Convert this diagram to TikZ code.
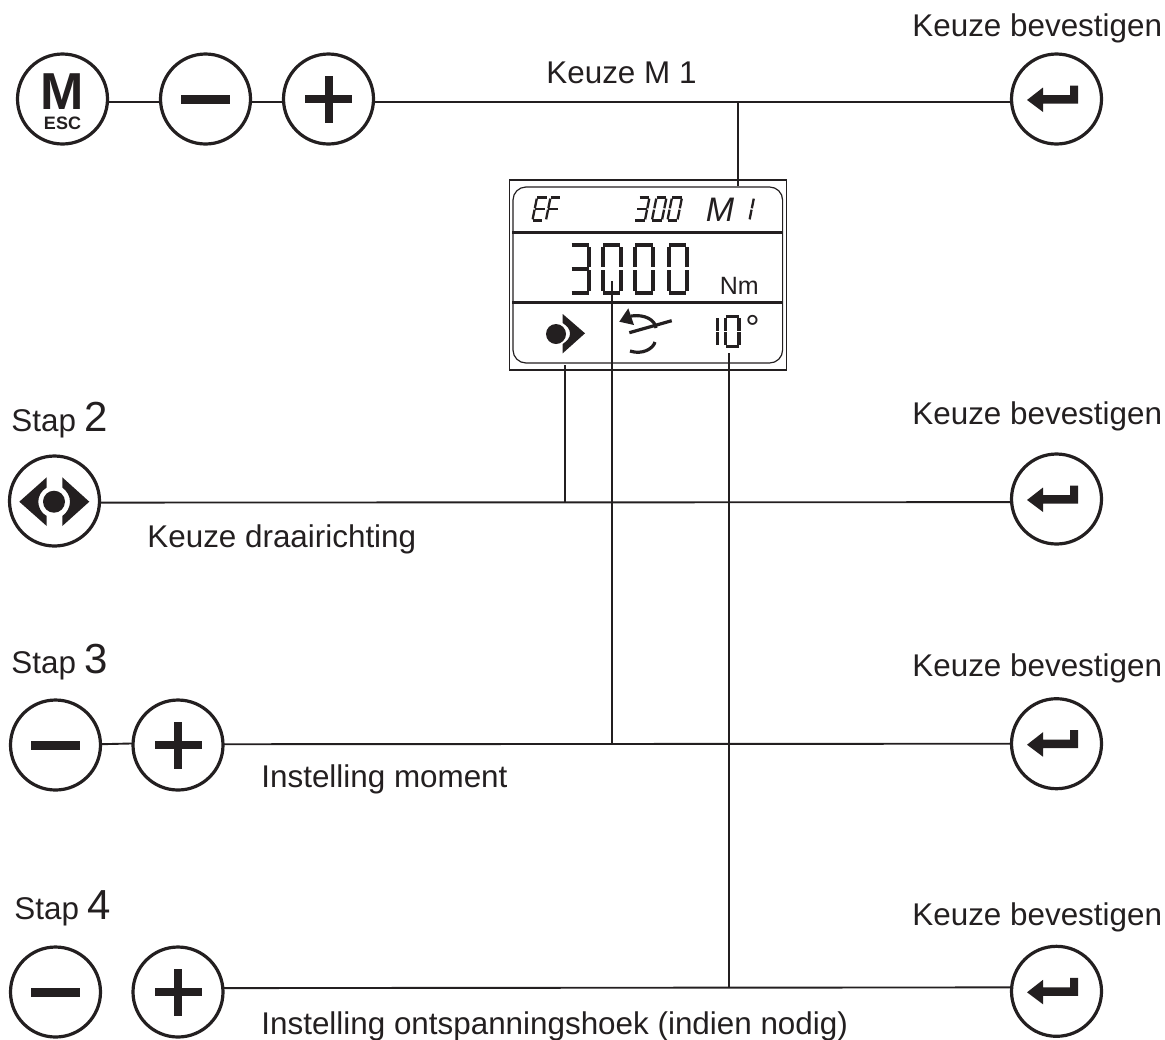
\documentclass[tikz,border=0pt]{standalone}
\usepackage{fontspec}
\setmainfont{Liberation Sans}
\definecolor{inkt}{HTML}{231F20}

\tikzset{
  knop/.style = {circle, draw=inkt, line width=1.6pt, minimum size=45pt, inner sep=0pt, outer sep=0pt},
  tekst/.style = {anchor=base west, inner sep=0pt, text=inkt, font=\fontsize{15.7}{18}\selectfont},
  lijn/.style = {draw=inkt, line width=0.95pt},
  lcdgroot/.style = {line width=2pt},
  lcdmidden/.style = {line width=1.7pt},
  lcdklein/.style = {line width=1.15pt},
  minbalk/.pic = {
    \fill [inkt] (-24.5,-4.5) rectangle (24.5,4.5);
  },
  plusbalk/.pic = {
    \fill [inkt] (-23.5,-4) rectangle (23.5,4);
    \fill [inkt] (-4,-23.5) rectangle (4,23.5);
  },
  enterpijl/.pic = {
    \fill [inkt] (-29.5,1) -- (-13.5,-11.5) -- (-13.5,-4) -- (13.5,-4) -- (13.5,-13.5)
      -- (21.5,-13.5) -- (21.5,4.5) -- (-13.5,4.5) -- (-13.5,13) -- cycle;
  },
  pics/segs/.style n args = {3}{code = {
    \coordinate (a1) at (0.02*#1,0);       \coordinate (a2) at (0.98*#1,0);
    \coordinate (b1) at (#1,0.05*#2);      \coordinate (b2) at (#1,0.47*#2);
    \coordinate (c1) at (#1,0.53*#2);      \coordinate (c2) at (#1,0.95*#2);
    \coordinate (d1) at (0.02*#1,#2);      \coordinate (d2) at (0.98*#1,#2);
    \coordinate (e1) at (0,0.53*#2);       \coordinate (e2) at (0,0.95*#2);
    \coordinate (f1) at (0,0.05*#2);       \coordinate (f2) at (0,0.47*#2);
    \coordinate (g1) at (0.02*#1,0.5*#2);  \coordinate (g2) at (0.98*#1,0.5*#2);
    \foreach \s in {#3} {
      \draw [inkt, pic actions] (\s1) -- (\s2);
    }
  }},
}

\begin{document}
\begin{tikzpicture}[x=0.5pt, y=-0.5pt]
    \useasboundingbox (0,0) rectangle (1165,1039);

    % knoppen
    \node [knop] (mesc) at (62.5,99) {};
    \node [knop] (mina) at (205.5,99) {};
    \node [knop] (plusa) at (328.5,99) {};
    \node [knop] (entera) at (1056.5,99) {};
    \node [knop] (draai) at (54.5,501) {};
    \node [knop] (enterb) at (1056.5,499) {};
    \node [knop] (minb) at (55.5,745) {};
    \node [knop] (plusb) at (178,745) {};
    \node [knop] (enterc) at (1056.5,743.7) {};
    \node [knop] (minc) at (55.5,992) {};
    \node [knop] (plusc) at (178,992) {};
    \node [knop] (enterd) at (1056.5,991.3) {};

    \node [text=inkt, inner sep=0pt, align=center, font=\fontsize{9}{10}\selectfont\bfseries] (mletter) at (62.5,101.4)
      {{\fontsize{26}{26}\selectfont M}\\ESC};
    \pic at (mina) {minbalk};
    \pic at (plusa) {plusbalk};
    \pic at (minb) {minbalk};
    \pic at (plusb) {plusbalk};
    \pic at (minc) {minbalk};
    \pic at (plusc) {plusbalk};
    \foreach \n in {entera, enterb, enterc, enterd} {
      \pic at (\n) {enterpijl};
    }
    \fill [inkt] (54,501.7) circle (11);
    \fill [inkt] (19.3,501.7) -- (46.7,477.3) -- (46.7,487.5) .. controls (41,491) and (38.3,496) .. (38.3,501.7)
      .. controls (38.3,507) and (41,513) .. (46.7,516) -- (46.7,526) -- cycle;
    \fill [inkt] (89.3,501.7) -- (62.3,477.3) -- (62.3,487.5) .. controls (67,491) and (70,496) .. (70,501.7)
      .. controls (70,507) and (67,513) .. (62.3,516) -- (62.3,526) -- cycle;

    % display
    \node [draw=inkt, line width=0.6pt, minimum width=138.6pt, minimum height=95pt, inner sep=0pt] (lcdkader) at (648,275) {};
    \node [draw=inkt, line width=0.6pt, rounded corners=6.5pt, minimum width=134.8pt, minimum height=88pt, inner sep=0pt] (lcdvak) at (647.8,275) {};
    \draw [inkt, line width=1.25pt] (lcdvak.west |- 0,232.7) -- (lcdvak.east |- 0,232.7);
    \draw [inkt, line width=1.25pt] (lcdvak.west |- 0,302.7) -- (lcdvak.east |- 0,302.7);

    \pic [lcdklein, xslant=0.2] at (537,197.5) {segs={10}{23}{a,d,e,f,g}};
    \pic [lcdklein, xslant=0.2] at (550.5,197.5) {segs={10}{23}{a,e,f,g}};
    \pic [lcdklein, xslant=0.2] at (639.5,197.5) {segs={10}{23}{a,b,c,d,g}};
    \pic [lcdklein, xslant=0.2] at (656.5,197.5) {segs={10}{23}{a,b,c,d,e,f}};
    \pic [lcdklein, xslant=0.2] at (672,197.5) {segs={10}{23}{a,b,c,d,e,f}};
    \pic [lcdklein, xslant=0.2] at (754,197.5) {segs={0}{23}{b,c}};

    \pic [lcdgroot] at (571.3,244.7) {segs={18}{48.3}{a,b,c,d,g}};
    \pic [lcdgroot] at (602.7,244.7) {segs={18}{48.3}{a,b,c,d,e,f}};
    \pic [lcdgroot] at (635,244.7) {segs={18}{48.3}{a,b,c,d,e,f}};
    \pic [lcdgroot] at (668.7,244.7) {segs={18}{48.3}{a,b,c,d,e,f}};
    \pic [lcdmidden] at (717.5,316.7) {segs={0}{29.6}{b,c}};
    \pic [lcdmidden] at (725.7,316.7) {segs={13.3}{29.6}{a,b,c,d,e,f}};

    \node [text=inkt, anchor=base west, inner sep=0pt, font=\fontsize{17}{20}\selectfont\itshape] (mdisplay) at (705.5,221) {M};
    \node [text=inkt, anchor=base west, inner sep=0pt, font=\fontsize{12.5}{14}\selectfont] (nm) at (719.5,294) {Nm};
    \node [text=inkt, anchor=base west, inner sep=0pt, font=\fontsize{18}{20}\selectfont] (graden) at (745,340) {°};

    \fill [inkt] (556,334) circle (10);
    \fill [inkt] (562.7,314) -- (585,333.3) -- (562.7,353.3) -- (562.7,344) .. controls (567,341) and (570,338) .. (570,333.5)
      .. controls (570,329) and (567,326) .. (562.7,323) -- cycle;
    \fill [inkt] (628.3,308.3) -- (619.3,321.7) -- (634,325) -- cycle;
    \draw [inkt, line width=1.6pt] (629.3,332.7) -- (671.7,320.7);
    \draw [inkt, line width=1.6pt] (631,316) .. controls (645,314) and (655,320) .. (656,328);
    \draw [inkt, line width=1.6pt] (630,351) .. controls (642,355) and (653,349) .. (655,342);

    % verbindingen
    \coordinate (jtop) at (738,102.7);
    \coordinate (ltop) at (738,186);
    \coordinate (jdraai) at (565,502.7);
    \coordinate (ldraai) at (565,365);
    \coordinate (jmoment) at (612,744);
    \coordinate (lmoment) at (612,281);
    \coordinate (jhoek) at (729,987.5);
    \coordinate (lhoek) at (729,353);
    \draw [lijn] (mesc.-4.7) -- (mina.184.7);
    \draw [lijn] (mina.-4.7) -- (plusa.184.7);
    \draw [lijn] (plusa.-4.7) -- (entera.184.7);
    \draw [lijn] (draai.-2.2) -- (enterb.184.7);
    \draw [lijn] (minb.1.3) -- (plusb.178.7);
    \draw [lijn] (plusb.1.3) -- (enterc.180.4);
    \draw [lijn] (plusc.5.6) -- (enterd.175);
    \draw [lijn] (jtop) -- (ltop);
    \draw [lijn] (jdraai) -- (ldraai);
    \draw [lijn] (jmoment) -- (lmoment);
    \draw [lijn] (jhoek) -- (lhoek);

    % teksten
    \node [tekst] (kba) at (912,36) {Keuze bevestigen};
    \node [tekst] (kbb) at (912,424) {Keuze bevestigen};
    \node [tekst] (kbc) at (912,676) {Keuze bevestigen};
    \node [tekst] (kbd) at (912,925) {Keuze bevestigen};
    \node [tekst] (keuzem) at (546,83) {Keuze M 1};
    \node [tekst] (stapb) at (11,431) {Stap {\fontsize{21}{24}\selectfont 2}};
    \node [tekst] (stapc) at (11,673) {Stap {\fontsize{21}{24}\selectfont 3}};
    \node [tekst] (stapd) at (14,919) {Stap {\fontsize{21}{24}\selectfont 4}};
    \node [tekst] (keuzedraai) at (147,547) {Keuze draairichting};
    \node [tekst] (moment) at (261,787) {Instelling moment};
    \node [tekst] (hoek) at (261,1034) {Instelling ontspanningshoek (indien nodig)};
\end{tikzpicture}
\end{document}
